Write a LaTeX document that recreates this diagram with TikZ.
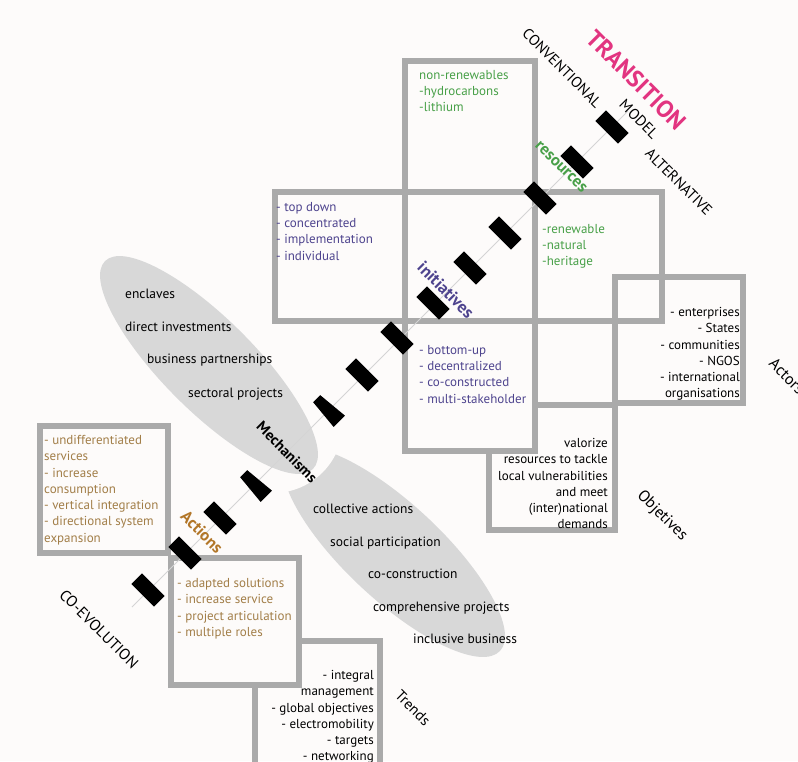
\documentclass[tikz,border=0pt]{standalone}
\usepackage{fontspec}
\setmainfont{PT Sans}
\usepackage{tikz}
\usetikzlibrary{positioning}

\definecolor{paper}{RGB}{253,251,250}
\definecolor{framegray}{RGB}{170,170,170}
\definecolor{blobgray}{RGB}{216,216,216}
\definecolor{axisgray}{RGB}{212,212,212}
\definecolor{resgreen}{RGB}{72,160,72}
\definecolor{inipurple}{RGB}{78,68,142}
\definecolor{actbrown}{RGB}{162,126,72}
\definecolor{actorange}{RGB}{178,118,40}
\definecolor{transpink}{RGB}{226,52,128}

\tikzset{
  frame/.style={draw=framegray, line width=6.5pt},
  bar/.style={fill=black, minimum width=32pt, minimum height=15pt, inner sep=0pt, rotate=-45},
  boxtext/.style={inner sep=0pt, font=\fontsize{13}{16.3}\selectfont},
  blobtext/.style={inner sep=0pt, anchor=base west, font=\fontsize{13.5}{15}\selectfont},
  axislabel/.style={inner sep=0pt, rotate=-45, font=\fontsize{15}{17}\selectfont},
  keylabel/.style={inner sep=0pt, rotate=-45, font=\bfseries\fontsize{16}{18}\selectfont}
}

\begin{document}
\begin{tikzpicture}[x=1pt, y=-1pt]
    \useasboundingbox (0,0) rectangle (798,761);
    \clip (0,0) rectangle (798,761);
    \fill[paper] (0,0) rectangle (798,761);

    % Mechanisms blobs
    \fill[blobgray, rotate around={-43:(394,552)}] (394,552) ellipse [x radius=145, y radius=48];
    \fill[paper] (273,423) circle [radius=70];
    \fill[blobgray, rotate around={-45:(209,365)}] (209,365) ellipse [x radius=147, y radius=46];

    % Frames
    \draw[frame] (615,277) rectangle (743,403);
    \draw[frame] (489,405) rectangle (615,530);
    \draw[frame] (405,61) rectangle (535,192);
    \draw[frame] (275,192) rectangle (405,321);
    \draw[frame] (535,192) rectangle (662,321);
    \draw[frame, fill=paper] (405,321) rectangle (535,451);
    \draw[frame] (40,426) rectangle (168,553);
    \draw[frame] (255,641) rectangle (380,800);
    \draw[frame, fill=paper] (171,558) rectangle (299,685);

    % Axis
    \coordinate (axis-start) at (132,607);
    \coordinate (axis-end) at (628,111);
    \draw[axisgray, line width=1pt] (axis-start) -- (axis-end);
    \foreach \x/\y [count=\i] in {612/127, 577/162, 540/198, 505/233, 470/268, 433/303,
        397/338, 362/375, 220/518, 185/553, 148/590}
        \node[bar] (bar\i) at (\x,\y) {};
    \fill[black, shift={(328,410)}, rotate=-45] (-16,-5) -- (16,-8) -- (16,8) -- (-16,5) -- cycle;
    \fill[black, shift={(255,485)}, rotate=-45] (-16,-5) -- (16,-8) -- (16,8) -- (-16,5) -- cycle;

    % Box texts
    \node[boxtext, resgreen, anchor=north west, align=left] (nonrenew) at (419,70)
        {non-renewables\\-hydrocarbons\\-lithium};
    \node[boxtext, resgreen, anchor=north west, align=left] (renew) at (542,224)
        {-renewable\\-natural\\-heritage};
    \node[boxtext, inipurple, anchor=north west, align=left] (topdown) at (276,202)
        {- top down\\- concentrated\\- implementation\\- individual};
    \node[boxtext, inipurple, anchor=north west, align=left] (bottomup) at (419,345)
        {- bottom-up\\- decentralized\\- co-constructed\\- multi-stakeholder};
    \node[boxtext, anchor=north east, align=right] (actorlist) at (740,307)
        {- enterprises\\- States\\- communities\\- NGOS\\- international\\organisations};
    \node[boxtext, anchor=north east, align=right] (objlist) at (608,438)
        {valorize\\resources to tackle\\local vulnerabilities\\and meet\\(inter)national\\demands};
    \node[boxtext, actbrown, anchor=north west, align=left] (undiff) at (44,435)
        {- undifferentiated\\services\\- increase\\consumption\\- vertical integration\\- directional system\\expansion};
    \node[boxtext, actbrown, anchor=north west, align=left] (adapted) at (177,578)
        {- adapted solutions\\- increase service\\- project articulation\\- multiple roles};
    \node[boxtext, anchor=north east, align=right] (trendlist) at (374,670)
        {- integral\\management\\- global objectives\\- electromobility\\- targets\\- networking};

    % Blob texts
    \node[blobtext] (enclaves) at (125,298) {enclaves};
    \node[blobtext] (direct) at (125,331) {direct investments};
    \node[blobtext] (business) at (147,363) {business partnerships};
    \node[blobtext] (sectoral) at (188,397) {sectoral projects};
    \node[blobtext] (collective) at (313,513) {collective actions};
    \node[blobtext] (social) at (330,546) {social participation};
    \node[blobtext] (coconst) at (368,578) {co-construction};
    \node[blobtext] (compreh) at (373,611) {comprehensive projects};
    \node[blobtext] (inclusive) at (413,643) {inclusive business};

    % Diagonal labels
    \node[keylabel, resgreen, font=\bfseries\fontsize{16.5}{18}\selectfont] (resources) at (561,167) {resources};
    \node[keylabel, inipurple, font=\bfseries\fontsize{17}{18}\selectfont] (initiatives) at (446,290) {initiatives};
    \node[keylabel, font=\bfseries\fontsize{15}{18}\selectfont] (mechanisms) at (287,452) {Mechanisms};
    \node[keylabel, actorange, font=\bfseries\fontsize{16.5}{18}\selectfont] (actions) at (202,532) {Actions};
    \node[inner sep=0pt, rotate=-45, transpink, font=\bfseries\fontsize{24}{26}\selectfont] (transition) at (636,80) {TRANSITION};
    \node[axislabel] (conventional) at (562,68) {CONVENTIONAL};
    \node[axislabel] (model) at (639,119) {MODEL};
    \node[axislabel] (alternative) at (679,182) {ALTERNATIVE};
    \node[axislabel, font=\fontsize{15.5}{17}\selectfont] (coevolution) at (99,629) {CO-EVOLUTION};
    \node[axislabel, font=\fontsize{16}{17}\selectfont] (actors) at (787,376) {Actors};
    \node[axislabel, font=\fontsize{16}{17}\selectfont] (objetives) at (662,516) {Objetives};
    \node[axislabel] (trends) at (413,708) {Trends};
\end{tikzpicture}
\end{document}
